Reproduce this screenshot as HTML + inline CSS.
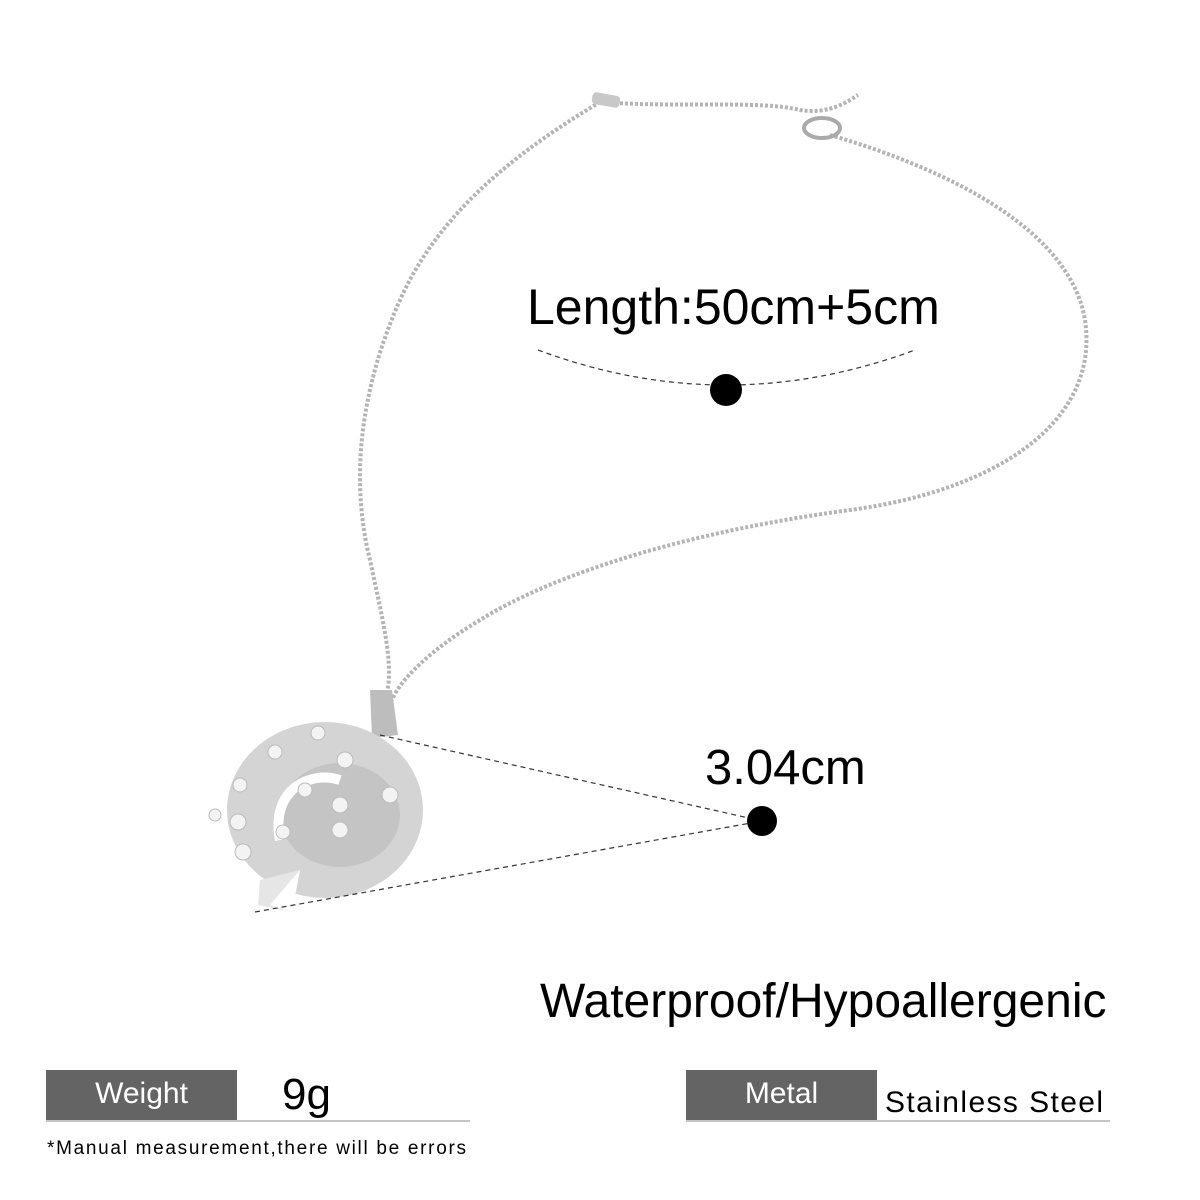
<!DOCTYPE html>
<html><head><style>
body{margin:0;background:#fff;}
.t{position:absolute;font-family:"Liberation Sans",sans-serif;color:#000;white-space:nowrap;}
</style></head><body>
<div style="position:relative;width:1200px;height:1200px;overflow:hidden;background:#fff">
<svg width="1200" height="1200" style="position:absolute;left:0;top:0">
<g fill="none" stroke="#b4b4b4" stroke-width="4" stroke-dasharray="3 2">
<path d="M600,102 C520,150 440,210 400,300 C360,390 350,480 370,560 C385,630 395,670 385,700"/>
<path d="M830,135 C950,170 1070,230 1085,320 C1100,420 1000,490 850,510 C700,530 560,570 480,620 C430,650 400,680 392,700"/>
<path d="M600,102 C680,108 760,100 800,110 C830,115 850,100 858,95"/>
</g>
<rect x="592" y="94" width="28" height="12" rx="4" fill="#c8c8c8" transform="rotate(10 606 100)"/>
<ellipse cx="822" cy="128" rx="18" ry="10" fill="none" stroke="#aaa" stroke-width="4"/>
<path d="M370,690 L392,690 L398,735 L372,738 Z" fill="#bdbdbd"/>
<ellipse cx="325" cy="810" rx="98" ry="88" fill="#d4d4d4"/>
<ellipse cx="340" cy="815" rx="60" ry="52" fill="#c4c4c4"/>
<path d="M280,840 C270,790 310,770 340,780" stroke="#fff" stroke-width="10" fill="none"/>
<path d="M260,880 L300,870 L292,912 L258,905 Z" fill="#e6e6e6"/>
<path d="M300,870 L292,912 L270,905" fill="#fff"/>
<g fill="#f3f3f3" stroke="#bbb" stroke-width="1">
<circle cx="318" cy="733" r="7"/><circle cx="275" cy="752" r="7"/><circle cx="240" cy="785" r="7"/>
<circle cx="238" cy="822" r="8"/><circle cx="243" cy="852" r="8"/><circle cx="305" cy="790" r="7"/>
<circle cx="345" cy="760" r="8"/><circle cx="390" cy="795" r="8"/><circle cx="340" cy="805" r="8"/>
<circle cx="340" cy="830" r="8"/><circle cx="283" cy="832" r="7"/><circle cx="215" cy="815" r="6"/>
</g>
<g fill="none" stroke="#333" stroke-width="1.2" stroke-dasharray="5 4">
<path d="M538,350 Q726,420 915,350"/>
<line x1="380" y1="735" x2="762" y2="821"/>
<line x1="255" y1="912" x2="762" y2="821"/>
</g>
<circle cx="726" cy="390" r="16" fill="#000"/>
<circle cx="762" cy="821" r="15" fill="#000"/>
<rect x="46" y="1070" width="191" height="50" fill="#646464"/>
<line x1="46" y1="1121" x2="470" y2="1121" stroke="#888" stroke-width="1"/>
<rect x="686" y="1070" width="191" height="50" fill="#646464"/>
<line x1="686" y1="1121" x2="1110" y2="1121" stroke="#888" stroke-width="1"/>
</svg>
<div class="t" style="left:527px;top:278px;font-size:50px">Length:50cm+5cm</div>
<div class="t" style="left:705px;top:740px;font-size:49px">3.04cm</div>
<div class="t" style="left:540px;top:974px;font-size:48px">Waterproof/Hypoallergenic</div>
<div class="t" style="left:46px;top:1077px;width:191px;text-align:center;font-size:30px;color:#fff">Weight</div>
<div class="t" style="left:282px;top:1070px;font-size:44px">9g</div>
<div class="t" style="left:686px;top:1077px;width:191px;text-align:center;font-size:30px;color:#fff">Metal</div>
<div class="t" style="left:885px;top:1086px;font-size:30px;letter-spacing:1.4px">Stainless Steel</div>
<div class="t" style="left:47px;top:1138px;font-size:19px;letter-spacing:1.7px">*Manual measurement,there will be errors</div>
</div>
</body></html>
